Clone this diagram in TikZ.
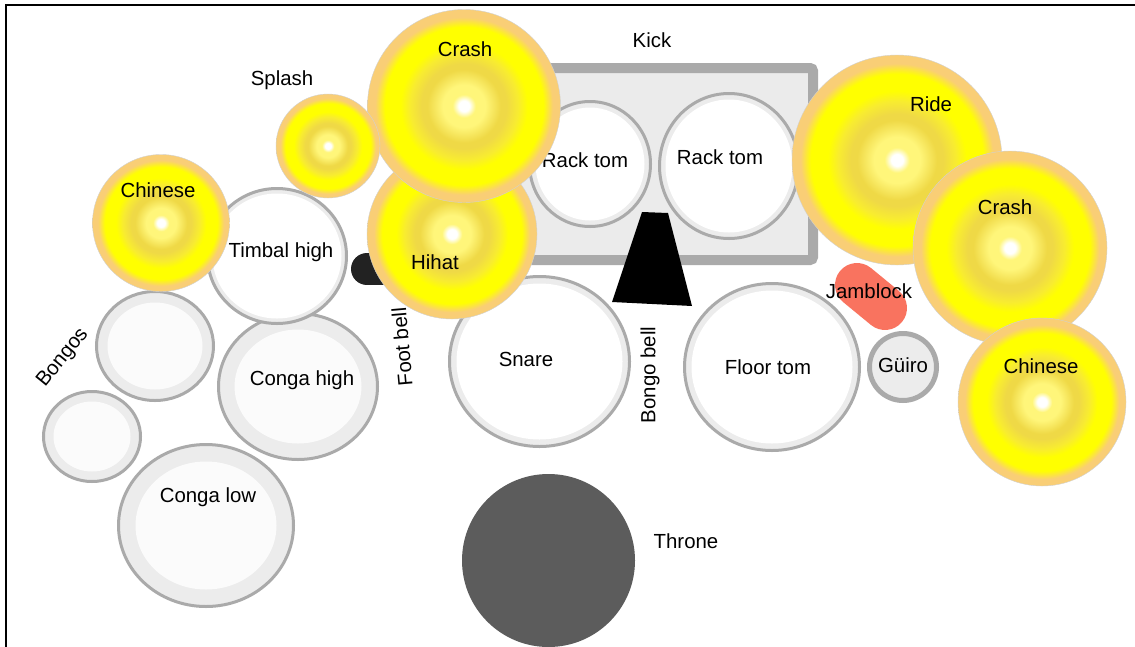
\documentclass[tikz,border=0pt]{standalone}
\usepackage{fontspec}
\setmainfont{Liberation Sans}
\definecolor{rimgray}{HTML}{AAAAAA}
\definecolor{ringgray}{HTML}{ECECEC}
\definecolor{headwhite}{HTML}{FBFBFB}
\definecolor{kickgray}{HTML}{EBEBEB}
\definecolor{thronegray}{HTML}{5C5C5C}
\definecolor{jamred}{HTML}{F9735F}
\definecolor{bellblack}{HTML}{222222}
\definecolor{cymglow}{HTML}{FFF67A}
\definecolor{cymmustard}{HTML}{EFD946}
\definecolor{cymmid}{HTML}{F8EC30}
\definecolor{cymyellow}{HTML}{FFFF00}
\definecolor{cymorange}{HTML}{F9CE76}
\pgfdeclareradialshading{cymbal}{\pgfpoint{0bp}{0bp}}{color(0bp)=(white); color(1.4bp)=(white); color(3bp)=(cymglow); color(5.5bp)=(cymglow); color(9.5bp)=(cymmustard); color(11bp)=(cymmustard); color(14bp)=(cymmid); color(16.5bp)=(cymyellow); color(20.5bp)=(cymyellow); color(23bp)=(cymorange); color(50bp)=(cymorange)}
\tikzset{
  rim/.style={draw=rimgray, line width=3pt},
  cym/.style={shading=cymbal, draw=black!18, line width=0.4pt},
  lbl/.style={font=\fontsize{20.4}{24}\selectfont, inner sep=0pt},
}
\begin{document}
\begin{tikzpicture}[x=1pt, y=-1pt]
  \useasboundingbox (0,0) rectangle (1135,646);
  \fill[white] (0,0) rectangle (1135,646);
  \draw[line width=2pt] (6,660) |- (1150,5);
  % kick
  \draw[draw=rimgray, fill=kickgray, line width=10pt, rounded corners=3pt] (505,68) rectangle (813,260);
  % drums: x/y/rx/ry/ring/head
  \foreach \cx/\cy/\rx/\ry/\ring/\head in {
    155/346/58.5/54.5/11/headwhite, 92/436.5/48.5/45/10/headwhite,
    206/525.5/87.5/81/17/headwhite, 298/386.5/79.5/73/16/headwhite,
    277/256/69.5/67.5/5/white, 590/164/60.5/62.5/6/white,
    729/166/69.5/72.5/6/white, 539.5/361.5/90/85/7/white,
    772/367/87.5/83.5/7/white}
  {
    \fill[ringgray] (\cx,\cy) ellipse [x radius=\rx, y radius=\ry];
    \fill[\head] (\cx,\cy) ellipse [x radius=\rx-\ring, y radius=\ry-\ring];
    \draw[rim] (\cx,\cy) ellipse [x radius=\rx, y radius=\ry];
  }
  \fill[thronegray] (548.5,560.5) circle (86.5);
  \draw[bellblack, line width=32pt, line cap=round] (367,269) -- (382,269);
  \fill[black] (642,212) -- (668,213) -- (692,306) -- (612,302) -- cycle;
  \draw[jamred, line width=44pt, line cap=round] (857,285) -- (885,308);
  \draw[draw=rimgray, fill=ringgray, line width=5pt] (903,367) circle (33.5);
  % drum labels
  \node[lbl] (kick) at (652,40) {Kick};
  \node[lbl] (racktoma) at (585,160) {Rack tom};
  \node[lbl] (racktomb) at (720,157) {Rack tom};
  \node[lbl] (timbal) at (281,252) {Timbal high};
  \node[lbl] (congahigh) at (302,380) {Conga high};
  \node[lbl] (congalow) at (208,497) {Conga low};
  \node[lbl, rotate=51] (bongos) at (63,358) {Bongos};
  \node[lbl, rotate=95] (footbell) at (402,347) {Foot bell};
  \node[lbl] (snare) at (526,359) {Snare};
  \node[lbl, rotate=90] (bongobell) at (650,375) {Bongo bell};
  \node[lbl] (floortom) at (768,367) {Floor tom};
  \node[lbl] (guiro) at (903,365) {Güiro};
  \node[lbl] (jamblock) at (869,291) {Jamblock};
  \node[lbl] (throne) at (686,541) {Throne};
  % cymbals
  \foreach \cx/\cy/\r in {161/223/68.5, 452/234/85, 464/106/96.5, 328/146/52,
    897/160/105, 1010/248/97, 1042/402/84}
    \shade[cym] (\cx,\cy) circle (\r);
  \node[lbl] (chinesea) at (158,190) {Chinese};
  \node[lbl] (splash) at (282,80) {Splash};
  \node[lbl] (crasha) at (465,49) {Crash};
  \node[lbl] (hihat) at (435,262) {Hihat};
  \node[lbl] (ride) at (931,104) {Ride};
  \node[lbl] (crashb) at (1005,207) {Crash};
  \node[lbl] (chineseb) at (1041,366) {Chinese};
\end{tikzpicture}
\end{document}
